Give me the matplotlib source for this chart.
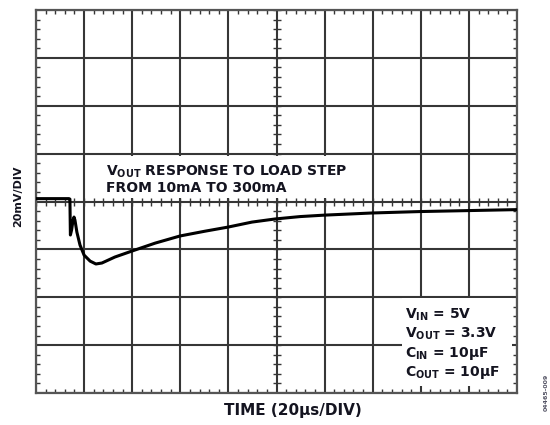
import matplotlib
matplotlib.use("Agg")
import matplotlib.pyplot as plt
import matplotlib.patches as mpatches
from matplotlib.ticker import MultipleLocator, NullFormatter
import numpy as np

plt.rcParams.update({
    "font.family": "DejaVu Sans",
    "font.weight": "bold",
    "mathtext.fontset": "dejavusans",
})

# scope trace: time (us) vs deviation from 3.3V (mV), 20us/div, 20mV/div
time_us = [0, 13.7, 14.1, 14.3, 14.8, 15.4, 15.8, 16.2, 17.0, 18.3, 20.0,
           22.5, 24.9, 27.4, 32.8, 39.9, 49.5, 59.9, 70.3, 79.8, 89.8,
           99.4, 109.8, 119.8, 139.7, 159.7, 179.6, 199.6]
vout_mv = [1.2, 1.2, 1.0, -14.0, -11.9, -7.8, -6.5, -7.8, -12.8, -18.2, -22.4,
           -24.9, -26.1, -25.7, -23.2, -20.7, -17.4, -14.4, -12.4, -10.7, -8.6,
           -7.3, -6.3, -5.7, -4.8, -4.2, -3.8, -3.4]

conditions = [r"$\mathbf{V}_{\mathbf{IN}}$ = 5V",
              r"$\mathbf{V}_{\mathbf{OUT}}$ = 3.3V",
              r"$\mathbf{C}_{\mathbf{IN}}$ = 10µF",
              r"$\mathbf{C}_{\mathbf{OUT}}$ = 10µF"]

GRID = "#363636"
TXT = "#141420"

fig = plt.figure(figsize=(5.5, 4.25), dpi=100)
ax = fig.add_axes([36 / 550, 32 / 425, 481 / 550, 383 / 425])

ax.set_xlim(0, 200)
ax.set_ylim(-80, 80)
ax.xaxis.set_major_locator(MultipleLocator(20))
ax.yaxis.set_major_locator(MultipleLocator(20))
ax.xaxis.set_minor_locator(MultipleLocator(4))
ax.yaxis.set_minor_locator(MultipleLocator(4))
ax.xaxis.set_major_formatter(NullFormatter())
ax.yaxis.set_major_formatter(NullFormatter())
ax.tick_params(which="major", length=0)
ax.tick_params(which="minor", direction="in", length=3, width=1, color=GRID,
               top=True, right=True)
ax.grid(which="major", color=GRID, linewidth=1.5)
for s in ax.spines.values():
    s.set_color("#555555")
    s.set_linewidth(1.6)

# tick marks along the centre cross
minor_t = np.arange(0, 201, 4)
minor_v = np.arange(-80, 81, 4)
ax.plot(minor_t, np.zeros_like(minor_t), ls="none", marker="|", ms=6,
        mew=1, color=GRID, zorder=1)
ax.plot(np.full_like(minor_v, 100), minor_v, ls="none", marker="_", ms=6,
        mew=1, color=GRID, zorder=1)

ax.plot(time_us, vout_mv, color="black", linewidth=2.2, zorder=4)

# white boxes behind the labels
ax.add_patch(mpatches.Rectangle((27, 1.5), 110, 17.6, transform=ax.transData,
                                facecolor="white", edgecolor="none", zorder=2))
ax.add_patch(mpatches.Rectangle((152, -77), 46, 36.5, transform=ax.transData,
                                facecolor="white", edgecolor="none", zorder=2))

ax.text(29, 16, r"$\mathbf{V}_{\mathbf{OUT}}$ RESPONSE TO LOAD STEP" + "\nFROM 10mA TO 300mA",
        fontsize=10, fontweight="bold", color=TXT, ha="left", va="top",
        linespacing=1.15, zorder=5)

for i, line in enumerate(conditions):
    ax.text(153.5, -49 - i * 7.9, line, fontsize=10, fontweight="bold",
            color=TXT, ha="left", va="baseline", zorder=5)

fig.text(18 / 550, 1 - 196 / 425, "20mV/DIV", rotation=90, fontsize=8,
         fontweight="bold", color=TXT, ha="center", va="center")
fig.text(293 / 550, 1 - 410 / 425, "TIME (20µs/DIV)", fontsize=11,
         fontweight="bold", color=TXT, ha="center", va="center")
fig.text(546 / 550, 1 - 392 / 425, "04465-009", rotation=90, fontsize=4.5,
         color="#555566", ha="center", va="center")

fig.savefig("out.png", dpi=100)
